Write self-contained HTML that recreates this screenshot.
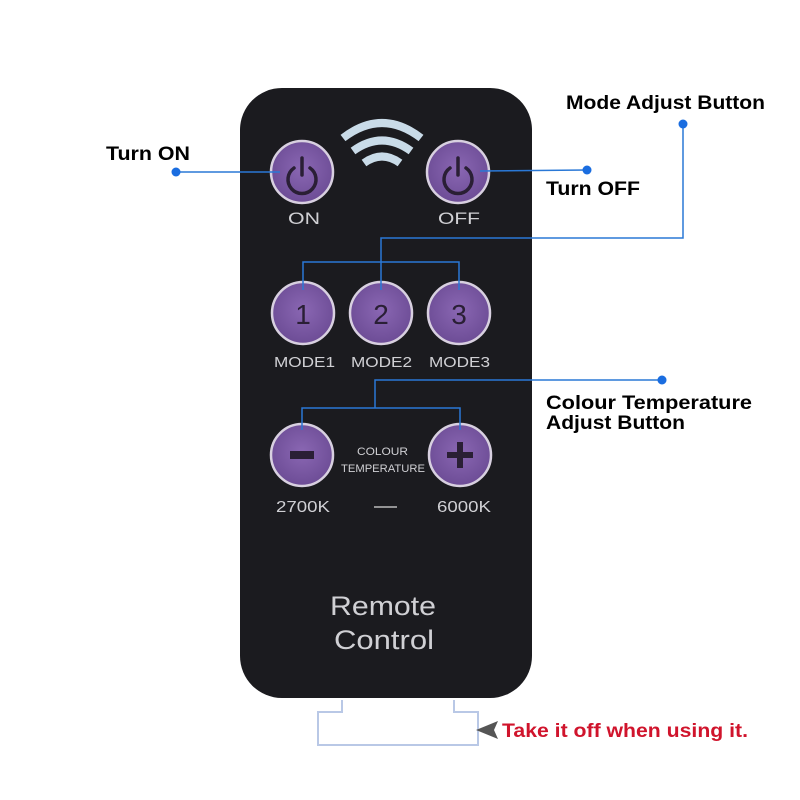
<!DOCTYPE html>
<html><head><meta charset="utf-8"><style>
body{margin:0;background:#fff;}
svg{display:block}
</style></head><body>
<svg width="800" height="800" viewBox="0 0 800 800" xmlns="http://www.w3.org/2000/svg" font-family="Liberation Sans, sans-serif">
<defs>
<radialGradient id="pb" cx="0.5" cy="0.45" r="0.6">
<stop offset="0" stop-color="#8a67b3"/><stop offset="1" stop-color="#6a4a93"/>
</radialGradient>
</defs>
<path d="M342 700 V712 H318 V745 H478 V712 H454 V700" fill="#fff" stroke="#b9c8e6" stroke-width="2"/>
<rect x="240" y="88" width="292" height="610" rx="42" fill="#1b1b1f"/>
<g fill="none" stroke="#c9dbe8" stroke-linecap="butt">
<path d="M343 138 Q382 108 421 138" stroke-width="8"/>
<path d="M353 151 Q382 130 411 151" stroke-width="8"/>
<path d="M364 163 Q382 150 400 163" stroke-width="8"/>
</g>
<g stroke="#d8d0e0" stroke-width="2.5" fill="url(#pb)">
<circle cx="302" cy="172" r="31"/><circle cx="458" cy="172" r="31"/>
<circle cx="303" cy="313" r="31"/><circle cx="381" cy="313" r="31"/><circle cx="459" cy="313" r="31"/>
<circle cx="302" cy="455" r="31"/><circle cx="460" cy="455" r="31"/>
</g>
<g fill="none" stroke="#2a1f35" stroke-width="3.5" stroke-linecap="round">
<path d="M294 168 A14 14 0 1 0 310 168"/><line x1="302" y1="158" x2="302" y2="175"/>
<path d="M450 168 A14 14 0 1 0 466 168"/><line x1="458" y1="158" x2="458" y2="175"/>
</g>
<g fill="#2a1f35" font-size="28" text-anchor="middle">
<text x="303" y="324">1</text><text x="381" y="324">2</text><text x="459" y="324">3</text>
</g>
<rect x="290" y="451" width="24" height="8" fill="#2a1f35"/>
<rect x="447" y="452" width="26" height="6" fill="#2a1f35"/><rect x="457" y="442" width="6" height="26" fill="#2a1f35"/>
<g fill="#d0d0d4" lengthAdjust="spacingAndGlyphs">
<text x="288" y="224" font-size="17" textLength="32" lengthAdjust="spacingAndGlyphs">ON</text>
<text x="438" y="224" font-size="17" textLength="42" lengthAdjust="spacingAndGlyphs">OFF</text>
<text x="274" y="367" font-size="15" textLength="61" lengthAdjust="spacingAndGlyphs">MODE1</text>
<text x="351" y="367" font-size="15" textLength="61" lengthAdjust="spacingAndGlyphs">MODE2</text>
<text x="429" y="367" font-size="15" textLength="61" lengthAdjust="spacingAndGlyphs">MODE3</text>
<text x="357" y="455" font-size="11" textLength="51" lengthAdjust="spacingAndGlyphs">COLOUR</text>
<text x="341" y="472" font-size="11" textLength="84" lengthAdjust="spacingAndGlyphs">TEMPERATURE</text>
<text x="276" y="512" font-size="16" textLength="54" lengthAdjust="spacingAndGlyphs">2700K</text>
<text x="437" y="512" font-size="16" textLength="54" lengthAdjust="spacingAndGlyphs">6000K</text>
<text x="330" y="615" font-size="27" textLength="106" lengthAdjust="spacingAndGlyphs">Remote</text>
<text x="334" y="649" font-size="27" textLength="100" lengthAdjust="spacingAndGlyphs">Control</text>
</g>
<line x1="374" y1="507" x2="397" y2="507" stroke="#bbb" stroke-width="1.5"/>
<g fill="none" stroke="#2a78d6" stroke-width="1.5">
<line x1="176" y1="172" x2="280" y2="172"/>
<line x1="480" y1="171" x2="587" y2="170"/>
<path d="M683 124 V238 H381 V290"/>
<path d="M303 290 V262 H459 V290"/>
<path d="M662 380 H375 V408"/>
<path d="M302 430 V408 H460 V430"/>
</g>
<g fill="#1a6de0">
<circle cx="176" cy="172" r="4.5"/><circle cx="587" cy="170" r="4.5"/>
<circle cx="683" cy="124" r="4.5"/><circle cx="662" cy="380" r="4.5"/>
</g>
<g font-weight="bold" font-size="19" fill="#000">
<text x="106" y="160" textLength="84" lengthAdjust="spacingAndGlyphs">Turn ON</text>
<text x="546" y="195" textLength="94" lengthAdjust="spacingAndGlyphs">Turn OFF</text>
<text x="566" y="109" textLength="199" lengthAdjust="spacingAndGlyphs">Mode Adjust Button</text>
<text x="546" y="409" textLength="206" lengthAdjust="spacingAndGlyphs">Colour Temperature</text>
<text x="546" y="429" textLength="139" lengthAdjust="spacingAndGlyphs">Adjust Button</text>
</g>
<path d="M476 730 L498 721 L494 730 L498 739 Z" fill="#555"/>
<text x="502" y="737" font-weight="bold" font-size="19" fill="#d0142c" textLength="246" lengthAdjust="spacingAndGlyphs">Take it off when using it.</text>
</svg>
</body></html>
